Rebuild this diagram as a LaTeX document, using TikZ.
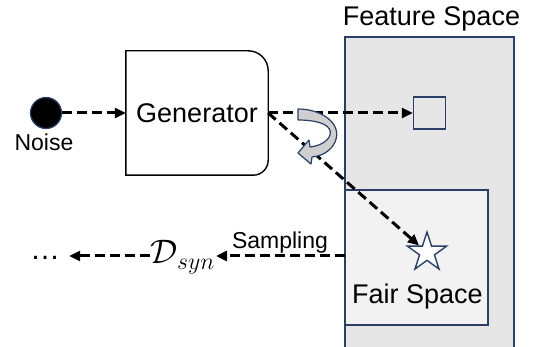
\RequirePackage{fix-cm}
\documentclass[tikz,border=0pt]{standalone}
\usepackage{fontspec}
\setmainfont{Liberation Sans}
\usetikzlibrary{arrows.meta,shapes.geometric}
\definecolor{navy}{HTML}{2B3F66}
\definecolor{fsgray}{HTML}{E6E6E6}
\definecolor{fairgray}{HTML}{F2F2F2}
\definecolor{curvegray}{HTML}{CFCFCF}
\tikzset{
  dasharrow/.style={line width=3pt, dash pattern=on 10pt off 5pt, -{Triangle[length=11pt,width=10pt]}},
  bigtext/.style={font=\fontsize{27}{32}\selectfont, inner sep=0pt},
  midtext/.style={font=\fontsize{23}{28}\selectfont, inner sep=0pt},
  regionbox/.style={draw=navy, line width=1.4pt},
}
\begin{document}
\begin{tikzpicture}[x=1pt,y=-1pt]
\useasboundingbox (0,0) rectangle (533,347);
% feature space
\fill[fsgray] (345,37) rectangle (514,352);
\draw[regionbox] (345,352) -- (345,37) -- (514,37) -- (514,352);
\node[bigtext] (fstitle) at (431.5,19) {Feature Space};
% fair space
\draw[regionbox, fill=fairgray] (345,190) rectangle (488,325);
\node[bigtext] (fairtitle) at (417.5,297) {Fair Space};
% square
\node[regionbox, fill=fsgray, minimum size=32pt, inner sep=0pt] (sq) at (429.5,113) {};
% star
\node[star, star points=5, star point ratio=2.618, minimum size=41pt, inner sep=0pt, draw=navy, line width=1.4pt, fill=white] (st) at (427,252.5) {};
% noise
\node[circle, fill=black, draw=navy, line width=1.2pt, minimum size=31pt, inner sep=0pt] (noise) at (46,113) {};
\node[midtext] (noiselabel) at (44,142) {Noise};
% generator
\node[bigtext, minimum width=142pt, minimum height=124pt] (gen) at (197,113) {Generator};
\draw[line width=1.4pt] (gen.south west) -- (gen.north west) -- ([xshift=-20pt]gen.north east)
  arc[start angle=90, end angle=0, radius=20pt] -- ([yshift=15pt]gen.south east)
  arc[start angle=0, end angle=-90, radius=15pt] -- cycle;
% arrows
\draw[dasharrow] (noise) -- (gen.west);
\draw[dasharrow] (gen.east) -- (sq.west);
\draw[dasharrow] (gen.east) -- (st);
% curved arrow
\draw[navy, line width=1.2pt, fill=curvegray, line join=round]
  (298,109) .. controls (322,109) and (343,124) .. (335,142)
  .. controls (331,151) and (322,156) .. (312,157)
  -- (311,164) -- (298,153) -- (309,140) -- (310,147)
  .. controls (320,146) and (328,141) .. (330,135)
  .. controls (333,126) and (320,120) .. (298,120) -- cycle;
% sampling
\coordinate (sampstart) at (345,256);
\node[font=\fontsize{34}{40}\selectfont, inner sep=1pt, anchor=base east] (dsyn) at (216,264) {$\mathcal{D}_{syn}$};
\node[midtext] (samplabel) at (280,243) {Sampling};
\node[font=\fontsize{30}{34}\selectfont, inner xsep=9pt, inner ysep=0pt, anchor=base] (dots) at (45,260) {\dots};
\draw[dasharrow] (sampstart) -- (dsyn.east |- sampstart);
\draw[dasharrow] (dsyn.west |- sampstart) -- (dots.east |- sampstart);
\end{tikzpicture}
\end{document}
